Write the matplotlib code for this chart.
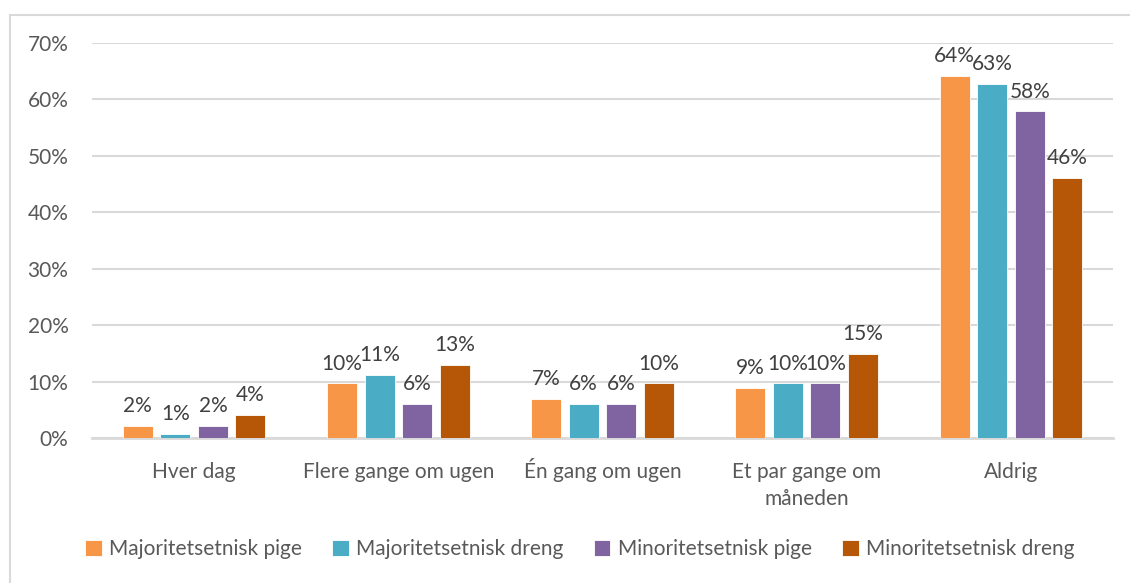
import matplotlib
matplotlib.use("Agg")
import matplotlib.pyplot as plt
from matplotlib.patches import Rectangle
from matplotlib.transforms import ScaledTranslation
import numpy as np

categories = ["Hver dag", "Flere gange om ugen", "Én gang om ugen", "Et par gange om\nmåneden", "Aldrig"]
series_names = ["Majoritetsetnisk pige", "Majoritetsetnisk dreng", "Minoritetsetnisk pige", "Minoritetsetnisk dreng"]
maj_pige = [2.1, 9.7, 6.9, 8.9, 64.2]
maj_dreng = [0.7, 11.2, 6.0, 9.7, 62.7]
min_pige = [2.1, 6.0, 6.0, 9.7, 57.9]
min_dreng = [4.1, 12.9, 9.7, 14.9, 46.1]
labels = [
    ["2%", "10%", "7%", "9%", "64%"],
    ["1%", "11%", "6%", "10%", "63%"],
    ["2%", "6%", "6%", "10%", "58%"],
    ["4%", "13%", "10%", "15%", "46%"],
]
yticks = [0, 10, 20, 30, 40, 50, 60, 70]
ytick_labels = ["0%", "10%", "20%", "30%", "40%", "50%", "60%", "70%"]

colors = ["#F79646", "#4BACC6", "#8064A2", "#B65708"]
series = [maj_pige, maj_dreng, min_pige, min_dreng]

plt.rcParams['font.family'] = ['Lato', 'DejaVu Sans']

fig = plt.figure(figsize=(11.3, 5.83), dpi=100)
ax = fig.add_axes([92/1130, 1-438/583, (1113-92)/1130, (438-43)/583])

x = np.arange(len(categories))
step = 0.184
width = 0.147
handles = []
for i, (vals, c) in enumerate(zip(series, colors)):
    pos = x + (i - 1.5) * step
    b = ax.bar(pos, vals, width, color=c, edgecolor="white", linewidth=0.6, label=series_names[i], zorder=3)
    handles.append(b)
    for p, v, lab in zip(pos, vals, labels[i]):
        ax.annotate(lab, (p, v), xytext=(0, 7), textcoords="offset points",
                    ha="center", va="bottom", fontsize=15, color="#404040")

ax.set_xlim(-0.5, 4.5)
ax.set_ylim(0, 70)
ax.set_yticks(yticks)
ax.set_yticklabels(ytick_labels)
ax.set_xticks(x)
ax.set_xticklabels(categories, va="top", linespacing=1.45)
ax.tick_params(axis="y", length=0, pad=17, labelsize=15, labelcolor="#595959")
ax.tick_params(axis="x", length=0, pad=17, labelsize=15, labelcolor="#595959")
# compensate the taller accented capital so all first lines share a baseline
for t in ax.get_xticklabels():
    if t.get_text().startswith("É"):
        t.set_transform(t.get_transform() + ScaledTranslation(0, 4/100, fig.dpi_scale_trans))
ax.grid(axis="y", color="#D9D9D9", linewidth=1.5, zorder=0)
ax.set_axisbelow(True)
for s in ["top", "right", "left"]:
    ax.spines[s].set_visible(False)
ax.spines["bottom"].set_color("#D9D9D9")
ax.spines["bottom"].set_linewidth(2)

leg = fig.legend(handles=handles, labels=series_names, loc="center", bbox_to_anchor=(0.513, 1-549/583),
                 ncol=4, frameon=False, fontsize=15, handlelength=0.8, handleheight=0.8,
                 handletextpad=0.35, columnspacing=1.45, labelcolor="#595959")

fig.patches.append(Rectangle((10/1130, -0.1), 1.2, 0.1 + (1-15/583), transform=fig.transFigure,
                             fill=False, edgecolor="#D9D9D9", linewidth=1.5, zorder=0))

fig.savefig("out.png", dpi=100)
